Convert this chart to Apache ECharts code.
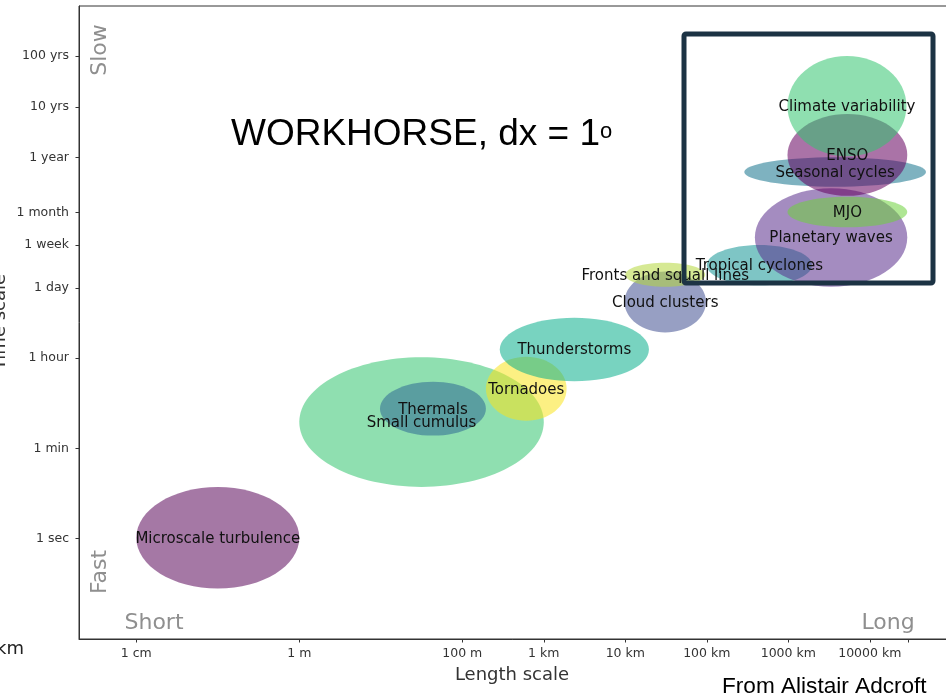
<!DOCTYPE html>
<html>
<head>
<meta charset="utf-8">
<script src="https://cdn.jsdelivr.net/npm/echarts@6/dist/echarts.min.js"></script>
<style>
  html, body { margin: 0; padding: 0; background: #fff; overflow: hidden; }
  #chart { width: 946px; height: 698px; }
</style>
</head>
<body>
<div id="chart"></div>
<script>
// phenomena, drawn in this order (later ones sit on top)
const phenomena = [
  "Microscale turbulence", "Small cumulus", "Thermals", "Tornadoes",
  "Thunderstorms", "Cloud clusters", "Fronts and squall lines",
  "Tropical cyclones", "Planetary waves", "MJO", "Seasonal cycles",
  "ENSO", "Climate variability"
];
// length extent, log10(metres)
const lengthLo = [-2.0, 0.0, 0.99, 2.29, 2.46, 3.99, 4.0, 5.0, 5.59, 5.99, 5.46, 5.99, 5.99];
const lengthHi = [0.0, 3.0, 2.29, 3.28, 4.29, 4.99, 4.98, 6.29, 7.46, 7.46, 7.69, 7.46, 7.45];
// time extent, log10(seconds)
const timeLo = [-0.98, 1.02, 2.03, 2.32, 3.10, 4.06, 4.96, 4.99, 4.96, 6.13, 6.93, 6.75, 7.53];
const timeHi = [1.02, 3.57, 3.09, 3.58, 4.35, 5.26, 5.43, 5.78, 6.90, 6.73, 7.51, 8.36, 9.50];

// axis ticks
const lengthTickMetres = [0.01, 1, 100, 1000, 1e4, 1e5, 1e6, 1e7];
const lengthTickLabels = ["1 cm", "1 m", "100 m", "1 km", "10 km", "100 km", "1000 km", "10000 km"];
const lengthExtraTick = [3e7];
const timeTickSeconds = [1, 60, 3600, 86400, 604800, 2629800, 31557600, 315576000, 3155760000];
const timeTickLabels = ["1 sec", "1 min", "1 hour", "1 day", "1 week", "1 month", "1 year", "10 yrs", "100 yrs"];

const colors = [
  "rgba(91,10,91,0.55)", "rgba(51,197,111,0.55)", "rgba(48,105,147,0.55)",
  "rgba(250,228,30,0.55)", "rgba(10,175,140,0.55)", "rgba(65,80,145,0.55)",
  "rgba(180,215,60,0.55)", "rgba(20,150,150,0.55)", "rgba(90,45,140,0.55)",
  "rgba(110,210,60,0.55)", "rgba(20,115,140,0.55)", "rgba(100,0,95,0.55)",
  "rgba(51,197,111,0.55)"
];

const FONT = "'DejaVu Sans', sans-serif";
const ARIAL = "'Liberation Sans', Arial, sans-serif";

const xTicks = lengthTickMetres.map(v => Math.log10(v));
const yTicks = timeTickSeconds.map(v => Math.log10(v));
const xLabelOf = {};
xTicks.forEach((v, i) => { xLabelOf[v.toFixed(3)] = lengthTickLabels[i]; });
const yLabelOf = {};
yTicks.forEach((v, i) => { yLabelOf[v.toFixed(3)] = timeTickLabels[i]; });

const seriesData = phenomena.map((n, i) => [lengthLo[i], lengthHi[i], timeLo[i], timeHi[i]]);

let chartMy = echarts.init(document.getElementById("chart"));

let option = {
  animation: false,
  grid: {
    left: 79, top: 6, width: 881, height: 633,
    show: true, borderColor: "#333", borderWidth: 1,
    outerBoundsMode: "none"
  },
  xAxis: {
    type: "value",
    min: -2.703, max: 8.107,
    splitLine: { show: false },
    axisLine: { onZero: false, lineStyle: { color: "#333" } },
    axisTick: {
      length: 3.5, lineStyle: { color: "#333" },
      customValues: xTicks.concat(lengthExtraTick.map(v => Math.log10(v)))
    },
    axisLabel: {
      customValues: xTicks,
      margin: 8, fontSize: 12.5, fontFamily: FONT, color: "#333",
      formatter: v => xLabelOf[v.toFixed(3)] || ""
    }
  },
  yAxis: {
    type: "value",
    min: -1.974, max: 10.486,
    splitLine: { show: false },
    axisLine: { onZero: false, lineStyle: { color: "#333" } },
    axisTick: { length: 3.5, lineStyle: { color: "#333" }, customValues: yTicks },
    axisLabel: {
      customValues: yTicks,
      margin: 10, fontSize: 12.5, fontFamily: FONT, color: "#333",
      formatter: v => yLabelOf[v.toFixed(3)] || ""
    }
  },
  series: [{
    type: "custom",
    silent: true,
    data: seriesData,
    renderItem: function (params, api) {
      const i = params.dataIndex;
      const p0 = api.coord([api.value(0), api.value(2)]);
      const p1 = api.coord([api.value(1), api.value(3)]);
      const cx = (p0[0] + p1[0]) / 2, cy = (p0[1] + p1[1]) / 2;
      const rx = Math.abs(p1[0] - p0[0]) / 2, ry = Math.abs(p1[1] - p0[1]) / 2;
      return {
        type: "group",
        children: [
          { type: "ellipse", z2: i, shape: { cx: cx, cy: cy, rx: rx, ry: ry }, style: { fill: colors[i] } },
          {
            type: "text", z2: 50, x: cx, y: cy + 1,
            style: {
              text: phenomena[i], fill: "#111", fontSize: 15, fontFamily: FONT,
              align: "center", verticalAlign: "middle"
            }
          }
        ]
      };
    }
  }],
  graphic: [
    { type: "rect", z: 100, shape: { x: 684, y: 34, width: 249, height: 249, r: 2 },
      style: { fill: "none", stroke: "#1c3344", lineWidth: 5 } },
    { type: "text", z: 100, x: 231, y: 134.5,
      style: { text: "WORKHORSE, dx = 1", fill: "#000", fontSize: 37, fontFamily: ARIAL, verticalAlign: "middle" } },
    { type: "text", z: 100, x: 600, y: 131.5,
      style: { text: "o", fill: "#000", fontSize: 22, fontFamily: ARIAL, verticalAlign: "middle" } },
    { type: "text", z: 100, x: 100.5, y: 50, rotation: Math.PI / 2,
      style: { text: "Slow", fill: "#8f8f8f", fontSize: 22, fontFamily: FONT, align: "center", verticalAlign: "middle" } },
    { type: "text", z: 100, x: 100.5, y: 572, rotation: Math.PI / 2,
      style: { text: "Fast", fill: "#8f8f8f", fontSize: 22, fontFamily: FONT, align: "center", verticalAlign: "middle" } },
    { type: "text", z: 100, x: 154, y: 623.5,
      style: { text: "Short", fill: "#8f8f8f", fontSize: 22, fontFamily: FONT, align: "center", verticalAlign: "middle" } },
    { type: "text", z: 100, x: 888, y: 623.5,
      style: { text: "Long", fill: "#8f8f8f", fontSize: 22, fontFamily: FONT, align: "center", verticalAlign: "middle" } },
    { type: "text", z: 100, x: 512, y: 675,
      style: { text: "Length scale", fill: "#333", fontSize: 18, fontFamily: FONT, align: "center", verticalAlign: "middle" } },
    { type: "text", z: 100, x: 0, y: 322, rotation: Math.PI / 2,
      style: { text: "Time scale", fill: "#333", fontSize: 18, fontFamily: FONT, align: "center", verticalAlign: "middle" } },
    { type: "text", z: 100, x: 24, y: 649,
      style: { text: "km", fill: "#222", fontSize: 18, fontFamily: FONT, align: "right", verticalAlign: "middle" } },
    { type: "text", z: 100, x: 722, y: 686.5,
      style: { text: "From Alistair Adcroft", fill: "#000", fontSize: 22.6, fontFamily: ARIAL, verticalAlign: "middle" } }
  ]
};

option && chartMy.setOption(option);
window.addEventListener("resize", () => chartMy.resize());
</script>
</body>
</html>
